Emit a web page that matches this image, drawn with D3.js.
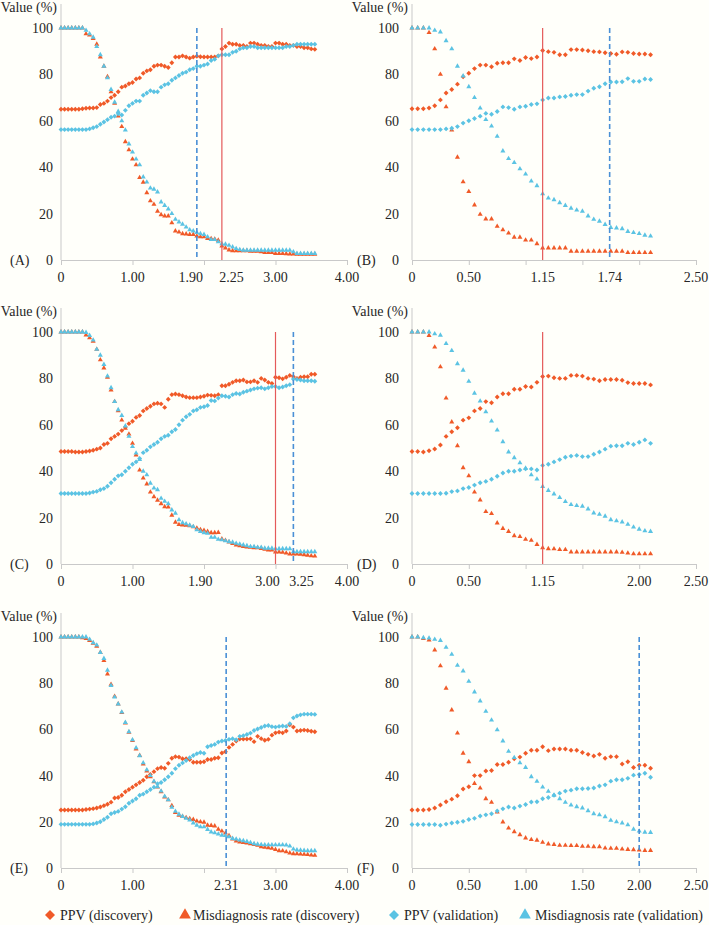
<!DOCTYPE html>
<html>
<head>
<meta charset="utf-8">
<script src="https://cdn.jsdelivr.net/npm/d3@7"></script>
<style>
  html, body { margin: 0; padding: 0; background: #fffffa; }
  svg { display: block; }
  svg text { font-family: "Liberation Serif", "DejaVu Serif", "Times New Roman", Times, serif !important; fill: #262626; }
</style>
</head>
<body>
<svg id="chart" width="709" height="925"></svg>
<script>
// ---------------- DATA ----------------
const xLong = [0,0.05,0.1,0.15,0.2,0.25,0.3,0.35,0.4,0.45,0.5,0.55,0.6,0.65,0.7,0.75,0.8,0.85,0.9,0.95,
  1,1.05,1.1,1.15,1.2,1.25,1.3,1.35,1.4,1.45,1.5,1.55,1.6,1.65,1.7,1.75,1.8,1.85,1.9,1.95,
  2,2.05,2.1,2.15,2.2,2.25,2.3,2.35,2.4,2.45,2.5,2.55,2.6,2.65,2.7,2.75,2.8,2.85,2.9,2.95,
  3,3.05,3.1,3.15,3.2,3.25,3.3,3.35,3.4,3.45,3.5,3.55];
const xShort = [0,0.05,0.1,0.15,0.2,0.25,0.3,0.35,0.4,0.45,0.5,0.55,0.6,0.65,0.7,0.75,0.8,0.85,0.9,0.95,
  1,1.05,1.1,1.15,1.2,1.25,1.3,1.35,1.4,1.45,1.5,1.55,1.6,1.65,1.7,1.75,1.8,1.85,1.9,1.95,2,2.05,2.1];

const seriesNames = ["PPV (discovery)", "Misdiagnosis rate (discovery)", "PPV (validation)", "Misdiagnosis rate (validation)"];
const yTicks = [0,20,40,60,80,100];

// Panel A
const A_ppvDisc = [65,65,65,65,65,65,65.2,65.4,65.5,65.5,65.7,67,67.5,68.5,70,71,72.5,74.5,75,76,
  76.5,78,78.5,80.5,81.5,82,83.5,84,84,83.5,83,85,87.5,87.5,88,87.5,87,87.5,87.8,87.6,
  87.5,87.5,87.5,87.5,88,91,92,93.5,93,93,92.5,92.5,92,93.5,93.5,93,92.5,92.5,92,92,
  93.5,93.5,93,93,92.5,92.5,92,92,91.5,91.5,91,90.8];
const A_misDisc = [100,100,100,100,100,100,100,97.5,97,95.5,93,87.5,83.5,79,72.5,67.5,62,57.5,51,47.5,
  43.5,41,35.5,33.5,29,25.5,24,21,19.5,19,19,16,12.5,12,11.3,11.2,11,11,10.3,10,
  10,9.3,9.2,9,8.5,6,5.2,4.3,4,4,4,4,4,3.8,3.8,3.8,3.5,3.2,3.2,3.2,
  2.8,2.8,2.8,2.7,2.6,2.6,2.5,2.5,2.5,2.5,2.5,2.5];
const A_ppvVal = [56.2,56.2,56.2,56.2,56.2,56.2,56.2,56.2,56.5,57,57.5,58.5,59.5,60.5,61.5,62,63,62.5,64.5,66.5,
  67.5,68.5,68.5,71,72,73,72.5,72.5,74.5,75.5,76,77.5,78.5,79.5,80.5,81,82,82.5,83.5,83.5,
  84,84.5,86,86.5,88,88.5,88.5,88.5,89.5,90,91,91.5,91.5,92,92,91.5,91.5,91.5,91.5,91.5,
  91.5,91.5,91.5,92,92,92.5,93,93,93,93,93,93];
const A_misVal = [100,100,100,100,100,100,100,99,97.5,96,92,88.5,83.5,78.5,73.5,68,64,60,56,50,
  46.5,43.5,41,35.8,33.6,31,30.5,29.3,25,23.5,22,20,17.5,16.4,15.4,14.2,13,12.5,11.8,11.3,
  11,10,8.8,8.8,7.8,7,6.8,6.3,5.6,4.9,4.5,4.2,4.2,4.2,4.2,4.2,4.2,4.2,4.2,4.2,
  4.2,4.2,4.2,4.2,4.2,3.5,2.8,2.8,2.8,2.8,2.8,2.8];

// Panel B
const B_ppvDisc = [65.2,65.2,65.2,65.5,66.5,69,72,73.5,75.8,79,80.5,82.5,84,84,83.3,84.8,85,85,86.7,86,
  87.3,86.8,87.5,90.3,89.8,89.5,88.5,88.5,90.7,90.7,90.5,90.2,89.8,89.7,89.3,89,88.7,89.7,89.5,89,
  88.8,88.8,88.5];
const B_misDisc = [100,100,100,98,91,80,66,56,44.3,33.7,29.5,23.7,19.7,17.7,17.7,14.5,13,11.6,9.8,9.8,
  8.6,8.6,7,5.2,5.2,5.2,5.2,5.2,3.8,3.8,3.8,3.8,3.8,3.8,3.8,3.8,3.8,3.8,3.2,3.2,
  3.2,3.2,3.2];
const B_ppvVal = [56.2,56.2,56.2,56.2,56.2,56.2,56.5,56.8,57.5,59,60,61,62,63.2,62.8,64,66,65.7,65,66,
  66.3,67,67.3,69,69.8,69.8,70.3,70.5,71,71.3,71.3,72.8,74,74.7,76,76.7,76.7,76.8,78.2,77,
  77,78,77.8];
const B_misVal = [100,100,100,100,99,98.3,94.5,91,83.5,79.3,74.7,70,65.5,60.5,57.7,53.3,47,43.7,42,39.3,
  37,34,32,28.5,26.7,26,24.7,23.5,22.3,21.5,21,19,17.5,16.7,15.3,14,13.8,13.5,12.3,11.8,
  11.4,10.7,10.3];

// Panel C
const C_ppvDisc = [48.5,48.5,48.5,48.5,48.3,48.3,48.3,48.5,48.7,49,49.5,50,51.5,52,54,55,56,57.5,59,60.5,
  61.5,63.2,64,66,67,68,69,69.3,69,67.5,71,73,73.3,73,72.5,72,71.7,71.7,71.7,72,
  72.3,72.8,72.7,72.5,73,76.8,76.8,77.5,78.3,79,79,79.3,78.5,78.5,79,78.3,80,79.3,78.3,77.8,
  80.5,80.3,79.8,80.5,81.3,80.7,80,80.5,80.7,80.7,81.8,81.8];
const C_misDisc = [100,100,100,100,100,100,100,98.7,97.5,96,92.5,88,84.5,80.5,75,70,66,62,58.5,56,
  52,47,40.5,37,34.5,31,29,27.5,26,24.7,24.5,21,18,17,16.8,16.7,16.5,16,15.5,14.8,
  14.5,14,13.5,13.5,13.6,10.8,10.2,9.5,8.8,8.2,7.8,7.5,7.3,7.2,7,7,6.7,6.3,6,6,
  5.2,5.2,5,4.7,4.3,4.3,4.3,4.2,4,3.8,3.5,3.4];
const C_ppvVal = [30.4,30.4,30.4,30.4,30.4,30.4,30.4,30.4,30.6,31,31.3,32,32.5,33.5,35,36.5,38,38.5,40,41.5,
  43,44,45.5,48,49,50.5,51.5,52.5,54,55,55.5,57,58,60,62,63.5,64.5,66,66.5,67.5,
  67.8,68.3,70.5,70.3,71.5,72.5,72.3,72,73,73.5,73.3,74,74.5,75,75.5,75.8,76,75.5,76,76.5,
  76.5,76,76.3,76.8,77.3,79.7,79.5,79.3,79,79,79,78.8];
const C_misVal = [100,100,100,100,100,100,100,99.8,98.5,96.5,92.5,90,86,81,76,70,66.5,64,59.5,55,
  50.6,47.8,45,40,38.4,34.8,32.7,32,28.3,27,26,23.3,21.9,19,17.8,17.3,16.7,16.1,14.7,14,
  13.5,13.2,11.5,11.5,10.6,10.4,10,9.6,9.4,8.9,8.6,8.2,7.9,7.5,7.5,7.2,7.2,6.8,6.8,6.8,
  6.6,6.6,6.6,6.6,6.6,5.3,5.3,5.3,5.3,5.3,5.3,5.3];

// Panel D
const D_ppvDisc = [48.5,48.5,48.3,48.8,49.6,51.3,55,57,58.7,62,63,66,67,70,69.5,72,73.4,73.4,75.3,75.3,
  76.5,76.3,78.3,80.8,81,80.3,80,80,81.3,81.3,81,80,79.7,79,79.5,79.5,79.5,79.2,78.2,77.8,
  77.8,77.8,77.2];
const D_misDisc = [100,100,100,98.5,93.5,85,71.5,61.2,51,41.5,38,31,27.6,22.6,21.7,17.7,15.3,14,12.2,11.8,
  10.6,10.2,8.4,7,6.6,6.5,6.2,6.2,5.2,5.2,5.2,5.2,5.2,5.2,5.2,5.2,5.2,5,4.7,4.4,
  4.4,4.4,4.4];
const D_ppvVal = [30.4,30.4,30.4,30.4,30.4,30.4,30.5,31.2,31.5,32.5,33,34,35,35.6,36.5,37.8,39.2,40,40,40.5,
  41,41,40.5,42.5,43,44,45,46,46.5,46.8,46.3,46.3,47.3,48.3,49.5,50.8,51,51,52,51.5,
  52.5,53.5,52];
const D_misVal = [100,100,100,100,99.2,98.6,95,92,86.3,83.5,78.7,73.6,70.2,65.6,61.6,57.7,52.7,48.3,45.8,43.6,
  41.3,38.4,36.6,33.4,31.7,30.2,28.6,26.9,25.6,25.2,24.9,23.7,22,21.4,20.6,19.1,18.6,18.1,17.1,15.9,
  15,14.3,14];

// Panel E
const E_ppvDisc = [25.1,25.1,25.1,25.1,25.1,25.1,25.1,25.3,25.5,25.7,26,26.4,27,27.6,28.5,30.3,30.5,31.5,33,34,
  35,36,37,38,39.5,40.5,41.7,43,43.5,43.2,45.3,47.5,48.2,48,47.3,47.3,47,45.8,45.8,45.8,
  46,47,47,47.5,47.7,49.8,50.3,52.2,53.5,55,55.8,55.8,55.8,55.9,54.7,57,56,55.3,55.7,57.5,
  58.5,58.8,58.5,59.3,62,61,59.3,59.5,59.7,59.5,59.2,59];
const E_misDisc = [100,100,100,100,100,100,99.7,99.3,98.5,97.3,96,93.3,89.8,84,79.5,74.3,71,67.3,62.7,58.8,
  55.2,51.5,48.7,45,42,39.5,37.3,35,33,30.7,29.5,27,24,22.8,22.3,21.8,21.4,21,20.3,20,
  19.8,18.5,18.4,18.2,16.8,16,15.1,14,12.5,11.7,11.2,11,10.8,10.5,10.2,9.8,9.2,9,8.8,8.5,
  8,7.5,7.4,7,6.5,6.2,6.2,6,5.9,5.8,5.6,5.5];
const E_ppvVal = [18.9,18.9,18.9,18.9,18.9,18.9,18.9,18.9,18.9,19.1,19.5,20,21,22,23.5,24,24.5,25.5,26.5,28,
  29,30,31.5,32,33,34,35,36.5,37,38.2,39.5,41,43,44.5,45.5,46.5,47.7,48.7,49.5,50,
  49.7,52.5,53,53.5,54.5,55,55.2,55.7,56,55.5,57,57.3,57.8,58.4,59.5,60.2,60.8,61.5,61.7,61.2,
  61,61.3,61.5,61.3,62.5,65,65.8,66.3,66.6,66.6,66.6,66.5];
const E_misVal = [100,100,100,100,100,100,100,100,99,97.5,96.5,93.3,90.7,85.6,79,74,71,67.5,63,59,
  55.5,52,48.6,45.5,42.5,40,37.5,35.2,33.3,31,29.5,26.3,24.5,23.3,22.3,21.5,20.8,19.5,18.5,17.8,
  17.8,16.7,15.6,15.2,14.7,14.2,14,13.5,12.8,12.5,12.1,11.8,11.5,11,10.5,10.3,10.1,10,10,10,
  10,10,10,9.9,9.5,8.2,7.8,7.7,7.6,7.5,7.5,7.5];

// Panel F
const F_ppvDisc = [25.1,25.1,25.1,25.3,26,27.3,28.7,29.8,31.3,34.2,35.2,40,40,42,42.2,44.8,44.8,45.8,47.3,48,
  49.7,51,51,52.5,50.8,51.5,51.5,51.5,51,51,50,49.2,48.5,49.2,47.5,48.2,48.2,45,46,43.5,
  44.5,44.5,43.2];
const F_misDisc = [100,100,99.3,98.7,94.4,87.5,77.8,68.4,58.4,49.7,46,36.6,34.6,30,28.4,24.2,19.9,17.3,15.7,14.4,
  13,12.3,12,11.1,10.4,10.2,9.8,9.8,9.7,9.7,9.4,9.4,9.2,9.2,8.6,8.5,8.5,8.2,8,7.9,
  7.8,7.6,7.6];
const F_ppvVal = [18.8,18.8,18.8,18.8,18.8,18.5,19,19.5,19.8,20.2,21,21.5,22.5,23,23.5,24.7,25.6,26.4,26,26.8,
  27.5,28.6,28.7,30,30.5,31.5,32.4,33.3,33.7,34.3,34.3,34.4,34.6,35.5,36,37.6,38.2,38.2,38.8,40.2,
  40.5,41,39.3];
const F_misVal = [100,100,99.7,99.5,99,98.5,95.5,92.5,87.7,85.3,80.8,76.2,72.3,67.8,64,59.8,55,50.5,47.8,45.5,
  43.5,39.5,37.5,35,33.2,31.5,30,28.4,27.2,26.5,26,24.8,23.5,23,22.2,20.6,20,19.5,18.7,16.8,
  16,15.5,15.4];

// x-axis tick marks and labels, cut-off lines (value, group)
const A_ticks = [0,1,2,3,4], B_ticks = [0,0.5,1,1.5,2,2.5];
const A_labels = [[0,"0"],[1,"1.00"],[1.90,"1.90"],[2.25,"2.25"],[3,"3.00"],[4,"4.00"]];
const B_labels = [[0,"0"],[0.5,"0.50"],[1.15,"1.15"],[1.74,"1.74"],[2.5,"2.50"]];
const C_labels = [[0,"0"],[1,"1.00"],[1.90,"1.90"],[3,"3.00"],[3.25,"3.25"],[4,"4.00"]];
const D_labels = [[0,"0"],[0.5,"0.50"],[1.15,"1.15"],[2,"2.00"],[2.5,"2.50"]];
const E_labels = [[0,"0"],[1,"1.00"],[2.31,"2.31"],[3,"3.00"],[4,"4.00"]];
const F_labels = [[0,"0"],[0.5,"0.50"],[1,"1.00"],[1.5,"1.50"],[2,"2.00"],[2.5,"2.50"]];
const A_cuts = [[1.90,"validation"],[2.25,"discovery"]];
const B_cuts = [[1.15,"discovery"],[1.74,"validation"]];
const C_cuts = [[3.00,"discovery"],[3.25,"validation"]];
const D_cuts = [[1.15,"discovery"]];
const E_cuts = [[2.31,"validation"]];
const F_cuts = [[2.00,"validation"]];

// ---------------- LAYOUT / STYLE ----------------
const FONT = '"Liberation Serif", "DejaVu Serif", "Times New Roman", Times, serif';
const COLS = [{x0: 61, x1: 347, labGap: 8, tagX: 10}, {x0: 412, x1: 696, labGap: 13, tagX: 357}];
const ROWS = [{top: 28, bot: 260}, {top: 332, bot: 564}, {top: 637, bot: 868}];
const labelShift = {A: {"1.90": -6, "2.25": 9.5}, C: {"1.90": 3.5, "3.00": -8, "3.25": 8}};
const ORANGE = "#f05a28", BLUE = "#5bc3e3";
const seriesStyle = [
  {color: ORANGE, shape: "diamond"},
  {color: ORANGE, shape: "triangle"},
  {color: BLUE, shape: "diamond"},
  {color: BLUE, shape: "triangle"}
];
const AXIS = "#c9c9c9";

const panels = [
  {tag: "A", col: 0, row: 0, xMax: 4, xs: xLong, series: [A_ppvDisc, A_misDisc, A_ppvVal, A_misVal], ticks: A_ticks, labels: A_labels, cuts: A_cuts},
  {tag: "B", col: 1, row: 0, xMax: 2.5, xs: xShort, series: [B_ppvDisc, B_misDisc, B_ppvVal, B_misVal], ticks: B_ticks, labels: B_labels, cuts: B_cuts},
  {tag: "C", col: 0, row: 1, xMax: 4, xs: xLong, series: [C_ppvDisc, C_misDisc, C_ppvVal, C_misVal], ticks: A_ticks, labels: C_labels, cuts: C_cuts},
  {tag: "D", col: 1, row: 1, xMax: 2.5, xs: xShort, series: [D_ppvDisc, D_misDisc, D_ppvVal, D_misVal], ticks: B_ticks, labels: D_labels, cuts: D_cuts},
  {tag: "E", col: 0, row: 2, xMax: 4, xs: xLong, series: [E_ppvDisc, E_misDisc, E_ppvVal, E_misVal], ticks: A_ticks, labels: E_labels, cuts: E_cuts},
  {tag: "F", col: 1, row: 2, xMax: 2.5, xs: xShort, series: [F_ppvDisc, F_misDisc, F_ppvVal, F_misVal], ticks: B_ticks, labels: F_labels, cuts: F_cuts}
];

const svg = d3.select("#chart").attr("font-family", FONT);
svg.append("rect").attr("width", 709).attr("height", 925).attr("fill", "#fffffa");

const diamondSym = d3.symbol().type(d3.symbolSquare).size(12);
const triSym = d3.symbol().type(d3.symbolTriangle).size(11);

panels.forEach(p => {
  const c = COLS[p.col], r = ROWS[p.row];
  const x = d3.scaleLinear().domain([0, p.xMax]).range([c.x0, c.x1]);
  const y = d3.scaleLinear().domain([0, 100]).range([r.bot, r.top]);
  const g = svg.append("g");

  // y axis line
  g.append("line").attr("x1", c.x0).attr("x2", c.x0).attr("y1", r.top - 24).attr("y2", r.bot)
    .attr("stroke", AXIS).attr("stroke-width", 1);
  // y tick labels
  const ya = d3.axisLeft(y).tickValues(yTicks).tickSize(0).tickPadding(c.labGap).tickFormat(d3.format("d"));
  const yg = g.append("g").attr("transform", `translate(${c.x0},0)`).call(ya);
  yg.attr("font-family", FONT).attr("font-size", 14);
  yg.select(".domain").remove();
  yg.selectAll("text").attr("font-size", 14).attr("font-family", FONT).attr("fill", "#262626");

  // x axis
  const xa = d3.axisBottom(x).tickValues(p.ticks).tickSize(5).tickSizeOuter(0).tickFormat("");
  const xg = g.append("g").attr("transform", `translate(0,${r.bot})`).call(xa);
  xg.select(".domain").attr("stroke", AXIS);
  xg.selectAll(".tick line").attr("stroke", AXIS);

  // x labels
  const shifts = labelShift[p.tag] || {};
  g.selectAll("text.xl").data(p.labels).join("text").attr("class", "xl")
    .attr("x", d => x(d[0]) + (shifts[d[1]] || 0))
    .attr("y", r.bot + 22)
    .attr("text-anchor", "middle").attr("font-size", 14).attr("font-family", FONT)
    .text(d => d[1]);

  // title
  g.append("text").attr("x", c.x0 - 4).attr("y", r.top - 16).attr("text-anchor", "end")
    .attr("font-size", 14).attr("font-family", FONT).text("Value (%)");
  // panel tag
  g.append("text").attr("x", c.tagX).attr("y", r.bot + 4.5).attr("font-size", 14).attr("font-family", FONT).text(`(${p.tag})`);

  // series
  p.series.forEach((vals, si) => {
    const st = seriesStyle[si];
    const pts = vals.map((v, i) => [p.xs[i], v]);
    g.append("g").selectAll("path").data(pts).join("path")
      .attr("d", st.shape === "diamond" ? diamondSym : triSym)
      .attr("transform", d => `translate(${x(d[0])},${y(d[1])})` + (st.shape === "diamond" ? " rotate(45)" : ""))
      .attr("fill", st.color);
  });

  // cut-off lines
  g.selectAll("line.cut").data(p.cuts).join("line").attr("class", "cut")
    .attr("x1", d => x(d[0])).attr("x2", d => x(d[0]))
    .attr("y1", y(100)).attr("y2", y(0))
    .attr("stroke", d => d[1] === "discovery" ? "#e45a5a" : "#4a90d6")
    .attr("stroke-width", d => d[1] === "discovery" ? 1.2 : 1.6)
    .attr("stroke-dasharray", d => d[1] === "discovery" ? null : "5,3");
});

// legend
const legendPos = [{mx: 50, tx: 60}, {mx: 185, tx: 193}, {mx: 394, tx: 404}, {mx: 525, tx: 535}];
const legY = 915;
const legDiamond = d3.symbol().type(d3.symbolSquare).size(50);
const legTri = d3.symbol().type(d3.symbolTriangle).size(60);
seriesNames.forEach((name, i) => {
  const st = seriesStyle[i], lp = legendPos[i];
  svg.append("path")
    .attr("d", st.shape === "diamond" ? legDiamond : legTri)
    .attr("transform", `translate(${lp.mx},${legY})` + (st.shape === "diamond" ? " rotate(45)" : ""))
    .attr("fill", st.color);
  svg.append("text").attr("x", lp.tx).attr("y", legY + 5).attr("font-size", 14).attr("font-family", FONT).text(name);
});
</script>
</body>
</html>
